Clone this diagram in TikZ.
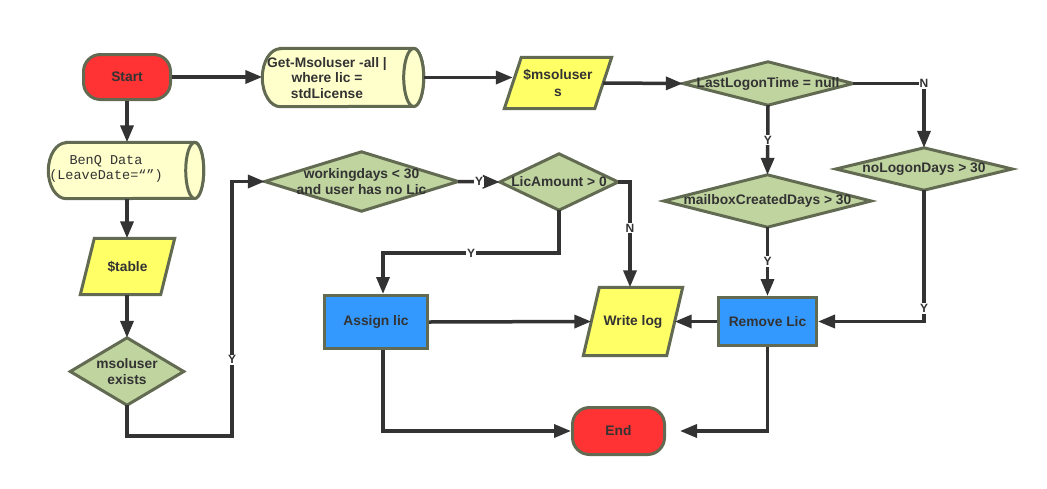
\documentclass[tikz,border=0pt]{standalone}
\usepackage{fontspec}
\setmainfont{Liberation Sans}
\newfontfamily\monof{Liberation Mono}
\usetikzlibrary{arrows.meta,calc}
\pgfdeclarelayer{bg}
\pgfsetlayers{bg,main}
\definecolor{bord}{HTML}{626B52}
\definecolor{linec}{HTML}{333333}
\definecolor{txtc}{HTML}{333333}
\definecolor{redc}{HTML}{FF3333}
\definecolor{cylc}{HTML}{FFFFCC}
\definecolor{parc}{HTML}{FFFF66}
\definecolor{diac}{HTML}{C0D4A0}
\definecolor{bluec}{HTML}{3399FF}
\newcommand\diashape[1]{\path[diast] (#1.north) -- (#1.east) -- (#1.south) -- (#1.west) -- cycle;}
\newcommand\parashape[2]{\path[parast] ([xshift=#2]#1.north west) -- ([xshift=#2]#1.north east) -- ([xshift=-#2]#1.south east) -- ([xshift=-#2]#1.south west) -- cycle;}
\begin{document}
\begin{tikzpicture}[x=1pt,y=1pt,
  txt/.style={font=\bfseries\fontsize{13.8}{15.5}\selectfont, text=txtc, align=center, inner sep=0pt},
  mono/.style={font=\monof\fontsize{13.5}{14.5}\selectfont, text=txtc, align=center, inner sep=0pt},
  term/.style={txt, rectangle, rounded corners=17pt, draw=bord, line width=3pt, fill=redc},
  procbox/.style={txt, rectangle, draw=bord, line width=3pt, fill=bluec},
  diast/.style={draw=bord, line width=3pt, fill=diac},
  parast/.style={draw=bord, line width=3pt, fill=parc},
  cylst/.style={draw=bord, line width=3pt, fill=cylc},
  conn/.style={draw=linec, line width=3.5pt, -{Triangle[length=17pt,width=13pt]}},
  lbl/.style={fill=white, font=\bfseries\fontsize{12}{12}\selectfont, text=txtc, inner sep=1pt}
]
\useasboundingbox (0,0) rectangle (1047,-488);

% terminals
\node[term, minimum width=87, minimum height=45] (start) at (127,-77) {Start};
\node[term, minimum width=92, minimum height=47] (end) at (618.5,-431) {End};

% cylinders
\node[txt, minimum width=161, minimum height=58] (g) at (343,-77.5) {};
\node[txt] (gt) at (327,-78) {Get-Msoluser -all |\\where lic =\\stdLicense};
\node[txt, minimum width=155, minimum height=56] (benq) at (126,-170.5) {};
\node[mono] (bt) at (106,-169) {BenQ Data\\(LeaveDate=“”)};

% parallelograms
\node[txt, minimum width=90, minimum height=51, font=\bfseries\fontsize{13.8}{17}\selectfont] (msol) at (558,-83) {\$msoluser\\s};
\node[txt, minimum width=80, minimum height=56] (tab) at (127.5,-266.5) {\$table};
\node[txt, minimum width=83, minimum height=68] (wlog) at (633,-321.5) {Write log};

% diamonds
\node[txt, minimum width=170, minimum height=43] (last) at (768,-83.5) {LastLogonTime = null};
\node[txt, minimum width=176, minimum height=42] (nolog) at (924,-169) {noLogonDays > 30};
\node[txt, minimum width=207, minimum height=52] (mail) at (767.5,-201) {mailboxCreatedDays > 30};
\node[txt, minimum width=118, minimum height=56] (lic) at (559,-182) {LicAmount > 0};
\node[txt, minimum width=193, minimum height=59] (wd) at (361.5,-181.5) {workingdays < 30\\and user has no Lic};
\node[txt, minimum width=113, minimum height=67] (mex) at (127,-371.5) {msoluser\\exists};

% process boxes
\node[procbox, minimum width=103, minimum height=53] (assign) at (376,-322) {Assign lic};
\node[procbox, minimum width=98, minimum height=48] (rem) at (767.5,-321.5) {Remove Lic};

% background shapes
\begin{pgfonlayer}{bg}
  \fill[white] (0,0) rectangle (1047,-488);
  \path[cylst] ([xshift=18]g.north west) -- ([xshift=-10]g.north east)
     arc[start angle=90, end angle=-90, x radius=10, y radius=29]
     -- ([xshift=18]g.south west)
     arc[start angle=270, end angle=90, x radius=18, y radius=29] -- cycle;
  \path[cylst] ([xshift=-10]g.east) ellipse[x radius=10, y radius=29];
  \path[cylst] ([xshift=18]benq.north west) -- ([xshift=-9]benq.north east)
     arc[start angle=90, end angle=-90, x radius=9, y radius=28]
     -- ([xshift=18]benq.south west)
     arc[start angle=270, end angle=90, x radius=18, y radius=28] -- cycle;
  \path[cylst] ([xshift=-9]benq.east) ellipse[x radius=9, y radius=28];
  \parashape{msol}{8.5}
  \parashape{tab}{7}
  \parashape{wlog}{8}
  \diashape{last}
  \diashape{nolog}
  \diashape{mail}
  \diashape{lic}
  \diashape{wd}
  \diashape{mex}
\end{pgfonlayer}

% connectors
\draw[conn] (start.east) -- (start.east -| g.west);
\draw[conn] (g.east) -- (g.east -| msol.west);
\draw[conn] (msol.east) -- (last.west);
\draw[conn] (last.east) -| node[lbl]{N} (nolog.north);
\draw[conn] (last.south) -- node[lbl]{Y} (mail.north);
\draw[conn] (mail.south) -- node[lbl]{Y} (rem.north);
\draw[conn] (nolog.south) |- node[lbl,pos=0.45]{Y} (rem.east);
\draw[conn] (rem.west) -- (wlog.east);
\draw[conn,shorten >=14pt] (rem.south) |- (end.east);
\draw[conn] (assign.east) -- (wlog.west);
\draw[conn] ([xshift=7]assign.south) |- (end.west);
\draw[conn] (lic.south) -- ++(0,-43) -| node[lbl,pos=0.25]{Y} ([xshift=7]assign.north);
\draw[conn] (lic.east) -| node[lbl,pos=0.72]{N} ([xshift=-3]wlog.north);
\draw[conn] (wd.east) -- node[lbl]{Y} (lic.west);
\draw[conn] (mex.south) -- ++(0,-31) -- ++(105,0) |- node[lbl,pos=0.15]{Y} (wd.west);
\draw[conn] (start.south) -- (start.south |- benq.north);
\draw[conn] (start.south |- benq.south) -- (start.south |- tab.north);
\draw[conn] (start.south |- tab.south) -- (mex.north);
\end{tikzpicture}
\end{document}
